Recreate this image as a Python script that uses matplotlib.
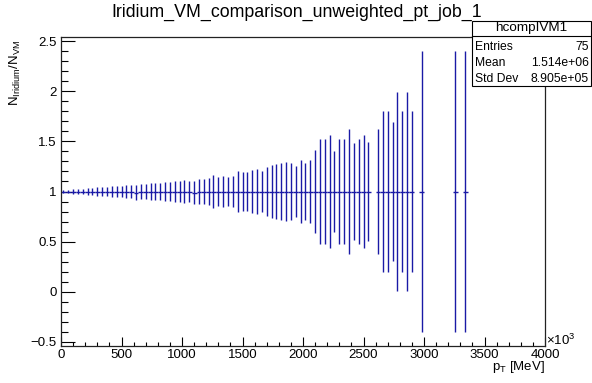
import matplotlib
matplotlib.use("Agg")
import matplotlib.pyplot as plt
from matplotlib.ticker import MultipleLocator
from matplotlib.patches import Rectangle
from matplotlib.lines import Line2D
import numpy as np

plt.rcParams['font.family'] = ['Liberation Sans', 'DejaVu Sans']
plt.rcParams['mathtext.fontset'] = 'custom'
plt.rcParams['mathtext.rm'] = 'Liberation Sans'
plt.rcParams['mathtext.it'] = 'Liberation Sans:italic'

# Ratio histogram: 100 bins of 40 MeV between 0 and 4000 MeV
bin_width = 40.0
bin_index = list(range(0, 64)) + list(range(65, 73)) + [74, 81, 83]
ratio = [1.0] * len(bin_index)
ratio[15] = 0.99
ratio[27] = 0.99
ratio_err = [
    0.013, 0.013, 0.023, 0.020, 0.026, 0.030, 0.035, 0.040, 0.043, 0.046,
    0.050, 0.053, 0.058, 0.061, 0.064, 0.071, 0.073, 0.076, 0.083, 0.088,
    0.086, 0.093, 0.098, 0.103, 0.109, 0.112, 0.109, 0.114, 0.126, 0.129,
    0.131, 0.162, 0.142, 0.155, 0.149, 0.152, 0.200, 0.198, 0.198, 0.218,
    0.228, 0.202, 0.245, 0.261, 0.278, 0.286, 0.296, 0.289, 0.256, 0.309,
    0.286, 0.309, 0.417, 0.527, 0.527, 0.567, 0.400, 0.527, 0.527, 0.622,
    0.488, 0.527, 0.567, 0.490,
    0.622, 0.802, 0.802, 0.694, 0.990, 0.802, 0.990, 0.802,
    1.400, 1.400, 1.400,
]

title = "Iridium_VM_comparison_unweighted_pt_job_1"
stats_name = "hcompIVM1"
stats_rows = [("Entries", "75"), ("Mean", "1.514e+06"), ("Std Dev", "8.905e+05")]

W, H = 592, 383
fig = plt.figure(figsize=(W / 100, H / 100), dpi=100)
ax = fig.add_axes([61 / W, 1 - 346 / H, (545 - 61) / W, (346 - 37) / H])

centers = (np.array(bin_index) + 0.5) * bin_width
vals = np.array(ratio)
errs = np.array(ratio_err)
blue = '#1a1aa6'
ax.errorbar(centers, vals, yerr=errs, xerr=bin_width / 2, fmt='none',
            ecolor=blue, elinewidth=1.0, capsize=0)

lo = (vals - errs).min()
hi = (vals + errs).max()
pad = 0.05 * (hi - lo)
ax.set_xlim(0, 4000)
ax.set_ylim(lo - pad, hi + pad)

ax.xaxis.set_minor_locator(MultipleLocator(100))
ax.yaxis.set_minor_locator(MultipleLocator(0.1))
ax.set_xticks(np.arange(0, 4001, 500))
ax.set_xticklabels([str(v) for v in range(0, 4001, 500)])
ax.set_yticks([-0.5, 0, 0.5, 1, 1.5, 2, 2.5])
ax.set_yticklabels(['\u22120.5', '0', '0.5', '1', '1.5', '2', '2.5'])

lab = 9.5
ax.tick_params(axis='x', which='major', direction='in', length=8.7 * 0.72,
               width=0.8, labelsize=lab, pad=2, top=False)
ax.tick_params(axis='x', which='minor', direction='in', length=4.3 * 0.72,
               width=0.8, top=False)
ax.tick_params(axis='y', which='major', direction='in', length=14 * 0.72,
               width=0.8, labelsize=lab, pad=3, right=False)
ax.tick_params(axis='y', which='minor', direction='in', length=7 * 0.72,
               width=0.8, right=False)
for s in ax.spines.values():
    s.set_linewidth(0.9)
    s.set_color('#222222')

fig.text(297 / W, 1 - 12 / H, title, ha='center', va='center', fontsize=12.8)

fig.text(15 / W, 1 - 40 / H, r'N$_{\mathrm{Iridium}}$/N$_{\mathrm{VM}}$',
         rotation=90, ha='center', va='top', fontsize=lab)
fig.text(545 / W, 1 - 367 / H, r'p$_{\mathrm{T}}$ [MeV]',
         ha='right', va='center', fontsize=lab)
fig.text(546 / W, 1 - 340 / H, r'$\times$10$^{3}$',
         ha='left', va='center', fontsize=lab)

# Statistics box
bx0, bx1, by0, by1 = 472, 591, 21, 86
fig.patches.append(Rectangle((bx0 / W, 1 - by1 / H), (bx1 - bx0) / W,
                             (by1 - by0) / H, transform=fig.transFigure,
                             facecolor='white', edgecolor='black',
                             linewidth=0.8, zorder=5))
fig.lines.append(Line2D([bx0 / W, bx1 / W], [1 - 36 / H, 1 - 36 / H],
                        transform=fig.transFigure, color='black',
                        linewidth=0.8, zorder=6))
fig.text((bx0 + bx1) / 2 / W, 1 - 28.5 / H, stats_name, ha='center',
         va='center', fontsize=9.7, zorder=7)
for i, (k, v) in enumerate(stats_rows):
    y = 1 - (46.5 + i * 16.3) / H
    fig.text((bx0 + 3) / W, y, k, ha='left', va='center', fontsize=8.7, zorder=7)
    fig.text((bx1 - 2) / W, y, v, ha='right', va='center', fontsize=8.7, zorder=7)

fig.savefig('out.png', dpi=100)
